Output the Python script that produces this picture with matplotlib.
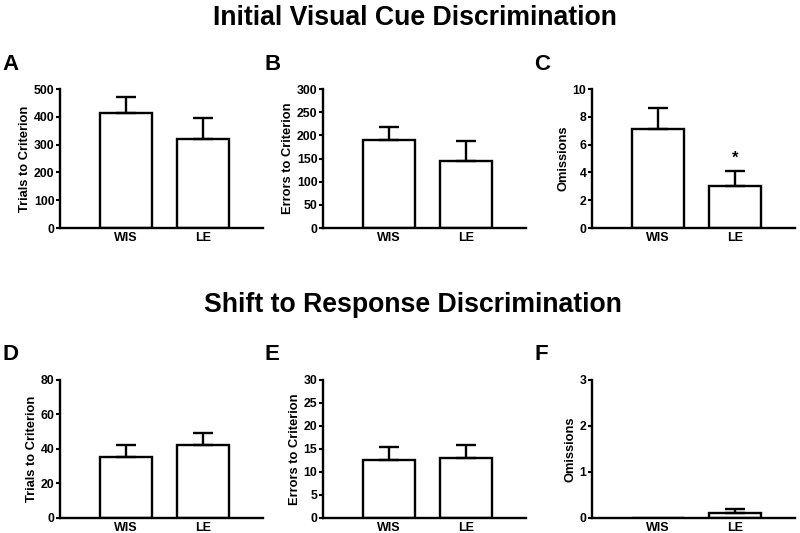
import matplotlib
matplotlib.use("Agg")
import matplotlib.pyplot as plt
import numpy as np

plt.rcParams['font.family'] = ['Liberation Sans', 'DejaVu Sans']
plt.rcParams['font.weight'] = 'bold'

groups = ['WIS', 'LE']

# Initial visual cue discrimination (mean, SEM)
trials_initial = [415, 319]
trials_initial_sem = [55, 78]
errors_initial = [191, 145]
errors_initial_sem = [26, 42]
omissions_initial = [7.1, 3.0]
omissions_initial_sem = [1.5, 1.1]

# Shift to response discrimination (mean, SEM)
trials_shift = [35.0, 42.1]
trials_shift_sem = [7.0, 7.0]
errors_shift = [12.6, 13.1]
errors_shift_sem = [2.7, 2.7]
omissions_shift = [0.0, 0.1]
omissions_shift_sem = [0.0, 0.1]

W, H = 800, 533
fig = plt.figure(figsize=(W / 100, H / 100), dpi=100)


def panel(left, top, bottom, letter, vals, sems, ylabel, ymax, ystep, star=None):
    ax = fig.add_axes([left / W, 1 - bottom / H, 203 / W, (bottom - top) / H])
    x = np.arange(1, len(groups) + 1)
    ax.bar(x, vals, width=0.68, color='white', edgecolor='black', linewidth=1.7, zorder=2)
    for xi, v, s in zip(x, vals, sems):
        if s > 0:
            ax.errorbar(xi, v, yerr=[[0], [s]], fmt='none', ecolor='black',
                        elinewidth=1.7, capsize=7, capthick=1.7, zorder=3)
    ax.set_xlim(0.14, 2.78)
    ax.set_ylim(0, ymax)
    ax.set_yticks(np.arange(0, ymax + ystep / 2, ystep))
    ax.set_xticks(x)
    ax.set_xticklabels(groups, fontsize=9, fontweight='bold')
    ax.tick_params(axis='x', length=0, pad=3)
    ax.tick_params(axis='y', length=3, width=1.5, labelsize=8.8, pad=1)
    for lab in ax.get_yticklabels():
        lab.set_fontweight('bold')
    for sp in ['top', 'right']:
        ax.spines[sp].set_visible(False)
    for sp in ['left', 'bottom']:
        ax.spines[sp].set_linewidth(1.7)
    ax.set_ylabel(ylabel, fontsize=9.3, fontweight='bold', labelpad=2)
    if star is not None:
        i = star
        ax.annotate('*', (x[i], vals[i] + sems[i]), xytext=(0, 4), textcoords='offset points',
                    ha='center', va='bottom', fontsize=12, fontweight='bold')
    fig.text((left - 58) / W, 1 - (top - 25) / H, letter, fontsize=16, fontweight='bold',
             ha='left', va='center')
    return ax


# top row
panel(60, 89, 228, 'A', trials_initial, trials_initial_sem, 'Trials to Criterion', 500, 100)
panel(323, 89, 228, 'B', errors_initial, errors_initial_sem, 'Errors to Criterion', 300, 50)
panel(592, 89, 228, 'C', omissions_initial, omissions_initial_sem, 'Omissions', 10, 2, star=1)

# bottom row
panel(60, 380, 517.7, 'D', trials_shift, trials_shift_sem, 'Trials to Criterion', 80, 20)
panel(323, 380, 517.7, 'E', errors_shift, errors_shift_sem, 'Errors to Criterion', 30, 5)
panel(592, 380, 517.7, 'F', omissions_shift, omissions_shift_sem, 'Omissions', 3, 1)

fig.text(415 / W, 1 - 25 / H, 'Initial Visual Cue Discrimination', fontsize=19.2,
         fontweight='bold', ha='center', va='baseline')
fig.text(413 / W, 1 - 312 / H, 'Shift to Response Discrimination', fontsize=19.2,
         fontweight='bold', ha='center', va='baseline')

fig.savefig('out.png', dpi=100)
